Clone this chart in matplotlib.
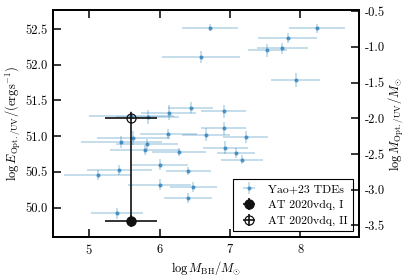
import matplotlib
matplotlib.use("Agg")
import matplotlib.pyplot as plt
import numpy as np

plt.rcParams.update({
    "font.family": "serif",
    "font.serif": ["cmr10"],
    "mathtext.fontset": "cm",
    "axes.formatter.use_mathtext": True,
    "font.size": 9,
    "axes.unicode_minus": True,
})

# Yao+23 TDEs
yao_mbh = [6.72, 8.23, 7.82, 7.53, 7.74, 6.59, 7.93, 6.91, 6.44, 6.13, 5.83, 5.60,
           6.91, 6.66, 7.22, 6.125, 6.93, 7.09, 7.17, 6.28, 6.00, 6.41, 5.46, 5.63,
           5.82, 5.795, 5.43, 5.13, 6.00, 5.40, 6.48, 6.41]
yao_e = [52.52, 52.51, 52.38, 52.20, 52.23, 52.11, 51.79, 51.35, 51.40, 51.33, 51.27, 51.28,
         51.11, 51.02, 50.99, 51.03, 50.84, 50.77, 50.67, 50.78, 50.60, 50.51, 50.92, 50.97,
         50.89, 50.80, 50.52, 50.45, 50.32, 49.92, 50.29, 50.13]
yao_mbh_err = [0.40, 0.40, 0.42, 0.28, 0.36, 0.55, 0.35, 0.32, 0.32, 0.39, 0.45, 0.60,
               0.32, 0.34, 0.32, 0.40, 0.32, 0.27, 0.30, 0.38, 0.40, 0.32, 0.57, 0.52,
               0.44, 0.50, 0.46, 0.48, 0.45, 0.37, 0.33, 0.34]
yao_e_err = [0.05, 0.06, 0.07, 0.09, 0.08, 0.08, 0.10, 0.09, 0.08, 0.10, 0.10, 0.07,
             0.09, 0.09, 0.08, 0.07, 0.09, 0.07, 0.06, 0.06, 0.08, 0.06, 0.08, 0.10,
             0.07, 0.07, 0.07, 0.07, 0.08, 0.08, 0.07, 0.07]

# AT 2020vdq
vdq_mbh = 5.595
vdq_mbh_err = 0.37
vdq1_e = 49.815
vdq1_e_err = [[0.08], [0.08]]
vdq2_e = 51.26
vdq2_e_err = [[1.445], [0.08]]

offset = 53.25  # log M = log E - offset

fig = plt.figure(figsize=(4.15, 2.78), dpi=100)
ax = fig.add_axes([0.128, 0.147, 0.737, 0.817])

blue = (0.12, 0.47, 0.71)
ax.errorbar(yao_mbh, yao_e, xerr=yao_mbh_err, yerr=yao_e_err, fmt='.', ms=4,
            mfc=blue + (0.6,), mec=blue + (0.6,), ecolor=blue + (0.28,),
            elinewidth=1.3, capsize=0, label="Yao+23 TDEs", zorder=2)
ax.errorbar([vdq_mbh], [vdq1_e], xerr=[vdq_mbh_err], yerr=vdq1_e_err, fmt='o', ms=6.5,
            color='#111111', elinewidth=1.2, capsize=0, label="AT 2020vdq, I", zorder=4)
ax.errorbar([vdq_mbh], [vdq2_e], xerr=[vdq_mbh_err], yerr=vdq2_e_err, fmt='o', ms=6.5,
            mfc='none', mec='#111111', mew=0.9, color='#111111', ecolor='#111111',
            elinewidth=1.2, capsize=0, label="AT 2020vdq, II", zorder=4)

ylim = (49.587, 52.766)
ax.set_xlim(4.49, 8.83)
ax.set_ylim(*ylim)
ax.set_xticks([5, 6, 7, 8])
ax.set_yticks([50.0, 50.5, 51.0, 51.5, 52.0, 52.5])
ax.yaxis.set_major_formatter(matplotlib.ticker.FormatStrFormatter('%.1f'))
ax.tick_params(direction='in', length=5.5, width=1.1, top=True, right=False, labelsize=9, pad=4)
for s in ax.spines.values():
    s.set_linewidth(1.3)

ax.set_xlabel(r"$\log M_{\rm BH}/M_{\odot}$", fontsize=9, labelpad=2)
ax.set_ylabel(r"$\log E_{\rm Opt./UV}/({\rm erg s^{-1}})$", fontsize=9, labelpad=2)

ax2 = ax.twinx()
ax2.set_ylim(ylim[0] - offset, ylim[1] - offset)
ax2.set_yticks([-3.5, -3.0, -2.5, -2.0, -1.5, -1.0, -0.5])
ax2.yaxis.set_major_formatter(matplotlib.ticker.FormatStrFormatter('%.1f'))
ax2.tick_params(direction='in', length=5.5, width=1.1, labelsize=9, pad=4)
ax2.set_ylabel(r"$\log M_{\rm Opt./UV}/M_{\odot}$", fontsize=9, labelpad=2)
for s in ax2.spines.values():
    s.set_linewidth(1.3)

leg = ax.legend(loc='lower right', fancybox=False, edgecolor='black', framealpha=1,
                fontsize=8.5, borderaxespad=0.5, handletextpad=0.7, borderpad=0.45,
                labelspacing=0.45, handlelength=1.8)
leg.get_frame().set_linewidth(0.8)

fig.savefig("out.png", dpi=100)
